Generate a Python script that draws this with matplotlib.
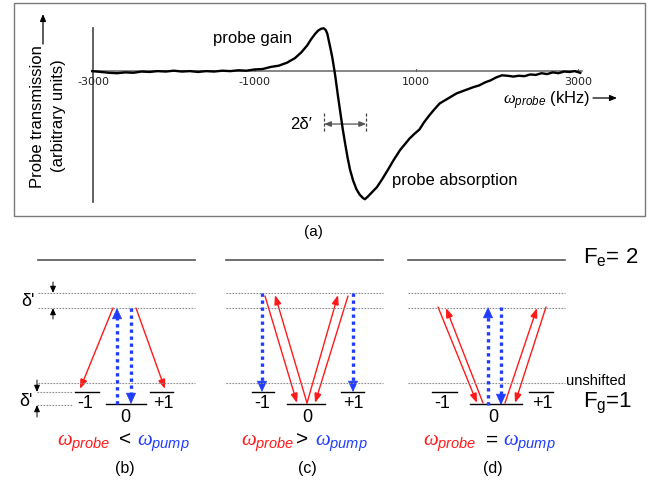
import matplotlib
matplotlib.use("Agg")
import matplotlib.pyplot as plt
from matplotlib.patches import Rectangle, FancyArrowPatch

# measured probe transmission trace (kHz, arbitrary units)
probe_khz = [-3010, -2900, -2800, -2700, -2600, -2500, -2400, -2300, -2200, -2100,
             -2000, -1900, -1800, -1700, -1600, -1500, -1400, -1300, -1200, -1100,
             -1000, -900, -800, -700, -600, -500, -420, -350, -300, -250,
             -210, -175, -145, -120, -100, -80, -60, -40, -20, 0,
             30, 60, 90, 120, 150, 180, 220, 260, 300, 340,
             365, 400, 450, 515, 580, 650, 720, 800, 860, 920,
             980, 1040, 1100, 1160, 1220, 1290, 1360, 1430, 1500, 1570,
             1640, 1710, 1780, 1850, 1920, 1990, 2060, 2130, 2200, 2270,
             2340, 2410, 2480, 2550, 2620, 2690, 2760, 2830, 2900, 2960, 3030]
probe_signal = [-0.01, -0.03, -0.05, -0.06, -0.04, -0.05, -0.02, -0.03, -0.01, -0.02,
                0.00, -0.02, -0.01, -0.03, -0.01, -0.02, 0.00, -0.01, 0.01, 0.00,
                0.03, 0.04, 0.09, 0.12, 0.19, 0.30, 0.44, 0.60, 0.75, 0.88,
                0.96, 1.00, 1.01, 0.97, 0.88, 0.70, 0.52, 0.33, 0.10, -0.15,
                -0.58, -0.98, -1.38, -1.73, -2.06, -2.35, -2.62, -2.82, -2.95, -3.03,
                -3.06, -3.00, -2.90, -2.77, -2.58, -2.36, -2.13, -1.89, -1.75, -1.61,
                -1.50, -1.40, -1.22, -1.07, -0.93, -0.78, -0.70, -0.62, -0.54, -0.49,
                -0.44, -0.39, -0.35, -0.28, -0.23, -0.16, -0.11, -0.12, -0.14, -0.12,
                -0.13, -0.09, -0.10, -0.06, -0.08, -0.04, -0.06, -0.02, -0.03, -0.01, -0.05]
tick_khz = [-3000, -1000, 1000, 3000]
tick_labels = ['-3000', '-1000', '1000', '3000']

sublevels = ['-1', '0', '+1']
panel_tags = ['(b)', '(c)', '(d)']
relations = ['<', '>', '=']

plt.rcParams['font.family'] = ['Liberation Sans', 'DejaVu Sans']
plt.rcParams['mathtext.fontset'] = 'custom'
plt.rcParams['mathtext.rm'] = 'Liberation Sans'
plt.rcParams['mathtext.it'] = 'Liberation Serif:italic'
plt.rcParams['mathtext.sf'] = 'Liberation Sans:italic'

W, H = 655, 492
fig = plt.figure(figsize=(W / 100, H / 100), dpi=100)
fig.patch.set_facecolor('white')

# pixel-space canvas for frame and level diagrams
cv = fig.add_axes([0, 0, 1, 1])
cv.set_xlim(0, W)
cv.set_ylim(H, 0)
cv.axis('off')

RED = '#ff1a1a'
BLUE = '#1f3cff'
GRAY = '#8c8c8c'

cv.add_patch(Rectangle((14, 3), 631, 213, fill=False, edgecolor='#7a7a7a', lw=1.0))

# ---------- (a) probe spectrum ----------
ax = fig.add_axes([84.9 / W, 1 - 209.3 / H, 501 / W, 189 / H])
ax.set_xlim(-3100, 3100)
ax.set_ylim(-3.3, 1.2)
ax.axis('off')
ax.patch.set_alpha(0)
ax.plot([-3013, 3050], [0, 0], color='#666666', lw=1.1)
ax.plot([-3000, -3000], [-3.13, 1.02], color='#555555', lw=1.3)
for t, lab in zip(tick_khz, tick_labels):
    ax.plot([t, t], [0, 0.05], color='#666666', lw=0.8)
    ax.text(t, -0.27, lab, ha='center', va='center', fontsize=8,
            family='DejaVu Sans', color='#222222')
ax.plot(probe_khz, probe_signal, color='black', lw=1.7, solid_joinstyle='round')

# 2 delta' marker
for xv in (-140, 380):
    ax.plot([xv, xv], [-1.0, -1.48], color='#444444', lw=0.9, ls=(0, (2.5, 1.5)))
ax.add_patch(FancyArrowPatch((-140, -1.27), (380, -1.27), arrowstyle='<|-|>,head_length=0.5,head_width=0.2',
                             mutation_scale=8, color='#555555', lw=0.9, shrinkA=0, shrinkB=0))
ax.text(-285, -1.27, "2\u03b4\u2032", ha='right', va='center', fontsize=12)

cv.text(253, 38, 'probe gain', ha='center', va='center', fontsize=12)
cv.text(455, 180, 'probe absorption', ha='center', va='center', fontsize=12)
cv.text(38, 117, 'Probe transmission', rotation=90, ha='center', va='center', fontsize=12)
cv.text(58, 116, '(arbitrary units)', rotation=90, ha='center', va='center', fontsize=12)
cv.add_patch(FancyArrowPatch((43, 44), (43, 14), arrowstyle='-|>,head_length=0.6,head_width=0.25',
                             mutation_scale=7, color='black', lw=0.9, shrinkA=0, shrinkB=0))
cv.text(590, 101, r'$\omega_{\mathsf{probe}}$ (kHz)', ha='right', va='center', fontsize=12)
cv.add_patch(FancyArrowPatch((593, 98), (617, 98), arrowstyle='-|>,head_length=0.6,head_width=0.25',
                             mutation_scale=7, color='black', lw=0.9, shrinkA=0, shrinkB=0))
cv.text(313, 232, '(a)', ha='center', va='center', fontsize=11)


# ---------- (b)-(d) level diagrams ----------
def arrow(p0, p1, color, lw=1.0, scale=7, hl=0.6, hw=0.3):
    cv.add_patch(FancyArrowPatch(p0, p1, arrowstyle=f'-|>,head_length={hl},head_width={hw}',
                                 mutation_scale=scale, color=color, lw=lw,
                                 shrinkA=0, shrinkB=0, joinstyle='miter'))


def dotted(x0, x1, y):
    cv.plot([x0, x1], [y, y], color=GRAY, lw=0.8, ls=(0, (1.5, 1.2)))


def probe(p0, p1):
    arrow(p0, p1, RED, lw=1.0, scale=7, hl=0.8, hw=0.3)


def pump(p0, p1):
    # dotted shaft, solid head
    x0, y0 = p0
    x1, y1 = p1
    d = 1 if y1 > y0 else -1
    cv.plot([x0, x1], [y0, y1 - d * 6], color=BLUE, lw=2.4, ls=(0, (1, 1.1)),
            solid_capstyle='butt', dash_capstyle='butt')
    arrow((x1, y1 - d * 9), p1, BLUE, lw=0.5, scale=6, hl=1.2, hw=0.55)


panels = [
    dict(x0=38, x1=195, levels=[(75, 99), (106, 146), (150, 173)],
         labs=[85, 125, 163], rel=(84, 125, 163), tag=125),
    dict(x0=226, x1=383, levels=[(252, 274), (287, 325), (341, 364)],
         labs=[262, 307, 353], rel=(268, 302, 341), tag=307),
    dict(x0=408, x1=565, levels=[(432, 457), (470, 522), (529, 553)],
         labs=[442, 493, 542], rel=(450, 492, 529), tag=493),
]
level_y = [392, 404, 392]

for i, p in enumerate(panels):
    cv.plot([p['x0'], p['x1']], [260, 260], color='#555555', lw=1.2)
    dotted(p['x0'], p['x1'], 293)
    dotted(p['x0'], p['x1'], 308)
    dotted(p['x0'], p['x1'], 383)
    for (a, b), yl in zip(p['levels'], level_y):
        cv.plot([a, b], [yl, yl], color='black', lw=1.0)
    for lab, xl, yl in zip(sublevels, p['labs'], [403, 417, 403]):
        cv.text(xl, yl, lab, ha='center', va='center', fontsize=13)
    rx, sx, bx = p['rel']
    cv.text(rx, 446, r'$\omega_{\mathsf{probe}}$', color=RED, ha='center', va='baseline', fontsize=15)
    cv.text(sx, 446, relations[i], color='black', ha='center', va='baseline', fontsize=15)
    cv.text(bx, 446, r'$\omega_{\mathsf{pump}}$', color=BLUE, ha='center', va='baseline', fontsize=15)
    cv.text(p['tag'], 468, panel_tags[i], ha='center', va='center', fontsize=11.5)

# (b) probe red-detuned
probe((113, 308), (80, 389))
probe((136, 308), (165, 389))
pump((117, 404), (117, 308))
pump((131, 308), (131, 404))
dotted(37, 72, 392)
dotted(37, 72, 405)
cv.text(35, 302, "\u03b4'", ha='right', va='center', fontsize=13)
cv.text(33, 402, "\u03b4'", ha='right', va='center', fontsize=13)
for tail, head in [((53, 282), (53, 293)), ((53, 319), (53, 308)),
                   ((37, 380), (37, 392)), ((37, 417), (37, 405))]:
    arrow(tail, head, 'black', lw=0.7, scale=5, hl=0.8, hw=0.35)

# (c) probe blue-detuned
pump((262, 293), (262, 392))
pump((353, 293), (353, 392))
probe((265, 296), (297, 403))
probe((307, 403), (275, 295))
probe((307, 403), (338, 295))
probe((348, 296), (315, 403))

# (d) degenerate
probe((438, 307), (477, 403))
probe((483, 403), (446, 308))
probe((505, 403), (537, 308))
probe((546, 307), (515, 403))
pump((488, 405), (488, 307))
pump((501, 307), (501, 405))

cv.text(566, 381, 'unshifted', ha='left', va='center', fontsize=10.5)
cv.text(583, 263, r'F$_{\mathrm{e}}$= 2', ha='left', va='baseline', fontsize=16)
cv.text(583, 407, r'F$_{\mathrm{g}}$=1', ha='left', va='baseline', fontsize=16)

fig.savefig('out.png', dpi=100, facecolor='white')
